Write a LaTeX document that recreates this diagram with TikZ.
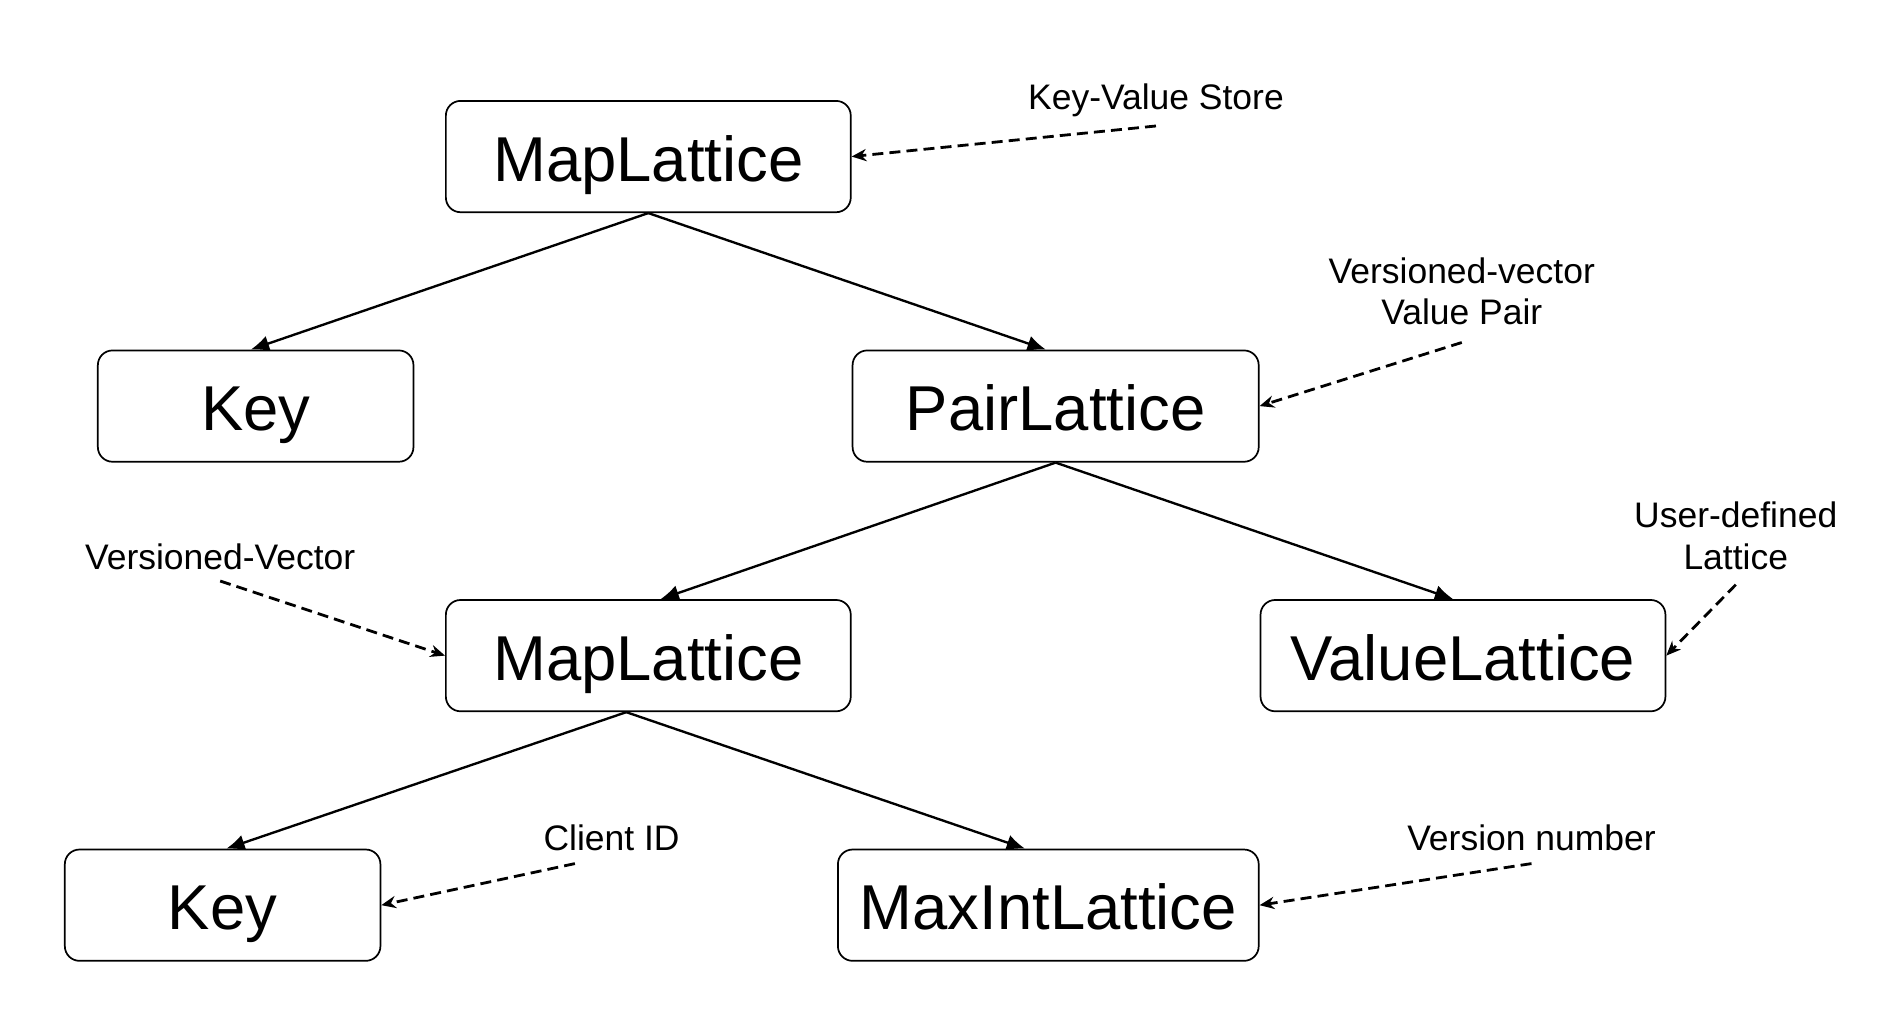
\documentclass[tikz,border=0pt]{standalone}
\usepackage{fontspec}
\setmainfont{Liberation Sans}
\usetikzlibrary{arrows.meta,positioning}
\tikzset{lattice/.style={draw,thick,rounded corners=0.24cm,minimum height=1.82cm,
                         text height=0.8cm,text depth=0cm,inner sep=0pt,
                         font=\fontsize{29.5}{32}\selectfont},
         tree/.style={line width=1.1pt,-{Latex[length=0.3cm,width=0.26cm]}},
         note/.style={font=\fontsize{16.5}{19.3}\selectfont,align=center,inner sep=0pt},
         note arrow/.style={line width=1.3pt,dash pattern=on 0.18cm off 0.1cm,
                            -{Stealth[length=0.24cm,width=0.2cm]}}}

\begin{document}
\begin{tikzpicture}
        \useasboundingbox (0,0) rectangle (31,16.6);
        % lattice boxes
        \node[lattice,minimum width=6.62cm] (ml1) at (10.60,14.04) {MapLattice};
        \node[lattice,minimum width=5.16cm] (key1) at (4.18,9.96) {Key};
        \node[lattice,minimum width=6.64cm] (pair) at (17.26,9.96) {PairLattice};
        \node[lattice,minimum width=6.62cm] (ml2) at (10.60,5.88) {MapLattice};
        \node[lattice,minimum width=6.62cm] (val) at (23.92,5.88) {ValueLattice};
        \node[lattice,minimum width=5.16cm] (key2) at (3.64,1.80) {Key};
        \node[lattice,minimum width=6.88cm] (maxint) at (17.14,1.80) {MaxIntLattice};
        %
        % notes
        \node[note] (kvs) at (18.90,14.96) {Key-Value Store};
        \node[note] (vvp) at (23.90,11.84) {Versioned-vector\\Value Pair};
        \node[note] (vv) at (3.60,7.50) {Versioned-Vector};
        \node[note] (udl) at (28.38,7.84) {User-defined\\Lattice};
        \node[note] (cid) at (10.00,2.90) {Client ID};
        \node[note] (vn) at (25.04,2.90) {Version number};
        \coordinate (kvs-s) at (18.90,14.54);
        \coordinate (vvp-s) at (23.90,11.00);
        \coordinate (vv-s) at (3.60,7.10);
        \coordinate (udl-s) at (28.38,7.04);
        \coordinate (cid-s) at (9.40,2.48);
        \coordinate (vn-s) at (25.04,2.48);
        %
        \foreach \A/\SA/\B/\SB in {ml1/0/key1/-0.08,ml1/0/pair/-0.16,pair/0/ml2/0.2,
                                   pair/0/val/-0.16,ml2/-0.36/key2/0.06,ml2/-0.36/maxint/-0.38}
            {\draw[tree] ([xshift=\SA cm]\A.south) -- ([xshift=\SB cm]\B.north);}
        \foreach \N/\T in {kvs-s/ml1.east,vvp-s/pair.east,vv-s/ml2.west,
                           udl-s/val.east,cid-s/key2.east,vn-s/maxint.east}
            {\draw[note arrow] (\N) -- (\T);}
\end{tikzpicture}
\end{document}
